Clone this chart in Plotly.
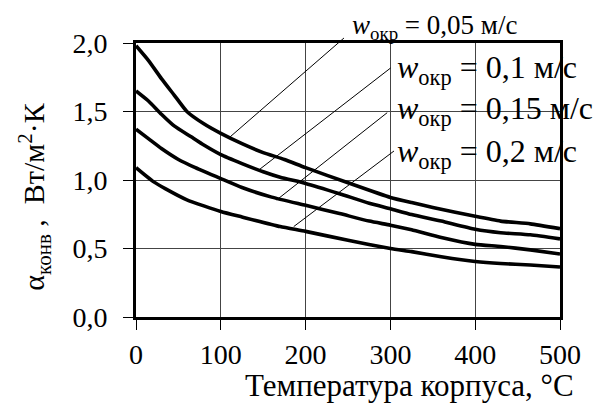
import plotly.graph_objects as go

# Convective heat-transfer coefficient vs. housing temperature
temp_c = [0, 15, 30, 45, 60, 80, 100, 125, 150, 175, 200, 250, 300, 325, 350, 400, 430, 465, 500]
alpha_005 = [1.98, 1.87, 1.74, 1.62, 1.50, 1.41, 1.34, 1.265, 1.20, 1.15, 1.09, 0.98, 0.873, 0.835, 0.80, 0.735, 0.70, 0.68, 0.645]

temp_c_2 = [0, 15, 30, 45, 65, 80, 100, 125, 150, 170, 200, 240, 275, 300, 325, 360, 400, 430, 465, 500]
alpha_01 = [1.65, 1.575, 1.48, 1.395, 1.315, 1.255, 1.185, 1.12, 1.06, 1.02, 0.975, 0.90, 0.83, 0.79, 0.748, 0.70, 0.64, 0.615, 0.60, 0.57]

temp_c_3 = [0, 15, 30, 50, 70, 100, 125, 160, 200, 240, 275, 300, 325, 360, 400, 430, 465, 500]
alpha_015 = [1.37, 1.30, 1.23, 1.15, 1.09, 1.01, 0.945, 0.875, 0.815, 0.755, 0.70, 0.67, 0.636, 0.58, 0.53, 0.515, 0.49, 0.46]

temp_c_4 = [0, 20, 35, 60, 100, 125, 170, 200, 250, 300, 325, 360, 400, 430, 465, 500]
alpha_02 = [1.09, 0.99, 0.935, 0.855, 0.77, 0.73, 0.66, 0.625, 0.56, 0.50, 0.477, 0.44, 0.405, 0.39, 0.38, 0.365]

series = [
    (temp_c, alpha_005),
    (temp_c_2, alpha_01),
    (temp_c_3, alpha_015),
    (temp_c_4, alpha_02),
]

x_ticks = [0, 100, 200, 300, 400, 500]
x_tick_text = ["0", "100", "200", "300", "400", "500"]
y_ticks = [0.0, 0.5, 1.0, 1.5, 2.0]
y_tick_text = ["0,0", "0,5", "1,0", "1,5", "2,0"]

# Curve labels and their leader lines
labels = ["<i>w</i><sub>окр</sub> = 0,05 м/с",
          "<i>w</i><sub>окр</sub> = 0,1 м/с",
          "<i>w</i><sub>окр</sub> = 0,15 м/с",
          "<i>w</i><sub>окр</sub> = 0,2 м/с"]
leader_from_x = [111, 145, 166, 186]
leader_from_y = [1.315, 1.074, 0.855, 0.66]
leader_to_x = [247, 302, 298, 306]
leader_to_y = [2.046, 1.826, 1.50, 1.22]
label_x = [252, 306, 306, 306]
label_y_paper = [1.06, 0.905, 0.755, 0.595]
label_size = [27, 32, 32, 32]

FONT = "Times New Roman, Liberation Serif, DejaVu Serif, serif"

fig = go.Figure()
for xs, ys in series:
    fig.add_trace(go.Scatter(x=xs, y=ys, mode="lines",
                             line=dict(color="black", width=3.6, shape="spline", smoothing=0.5),
                             showlegend=False, hoverinfo="skip"))

for i in range(4):
    fig.add_annotation(x=leader_from_x[i], y=leader_from_y[i],
                       ax=leader_to_x[i], ay=leader_to_y[i],
                       xref="x", yref="y", axref="x", ayref="y",
                       text="", showarrow=True, arrowhead=0, arrowwidth=1,
                       arrowcolor="black", standoff=0, startstandoff=0)
    fig.add_annotation(x=label_x[i], y=label_y_paper[i], xref="x", yref="paper",
                       text=labels[i], showarrow=False, xanchor="left", yanchor="middle",
                       font=dict(family=FONT, size=label_size[i], color="black"))

fig.add_annotation(x=0.646, y=-0.25, xref="paper", yref="paper",
                   text="Температура корпуса, °С", showarrow=False,
                   xanchor="center", yanchor="middle",
                   font=dict(family=FONT, size=31, color="black"))

fig.add_annotation(x=-0.24, y=0.44, xref="paper", yref="paper",
                   text="α<sub>конв</sub> ,  Вт/м<sup>2</sup>·К", textangle=-90,
                   showarrow=False, xanchor="center", yanchor="middle",
                   font=dict(family=FONT, size=30, color="black"))

axis_common = dict(showline=True, linecolor="black", linewidth=3, mirror=True,
                   showgrid=True, gridcolor="#444444", gridwidth=1,
                   ticks="outside", ticklen=10, tickwidth=1, tickcolor="black",
                   zeroline=False, tickfont=dict(family=FONT, size=28, color="black"))

fig.update_xaxes(range=[0, 500], tickvals=x_ticks, ticktext=x_tick_text, **axis_common)
fig.update_yaxes(range=[0, 2], tickvals=y_ticks, ticktext=y_tick_text,
                 ticklabelstandoff=10, **axis_common)

fig.update_layout(width=607, height=408,
                  margin=dict(l=136, r=47, t=43, b=91),
                  plot_bgcolor="white", paper_bgcolor="white",
                  font=dict(family=FONT, color="black"))

fig.write_html("out.html")
